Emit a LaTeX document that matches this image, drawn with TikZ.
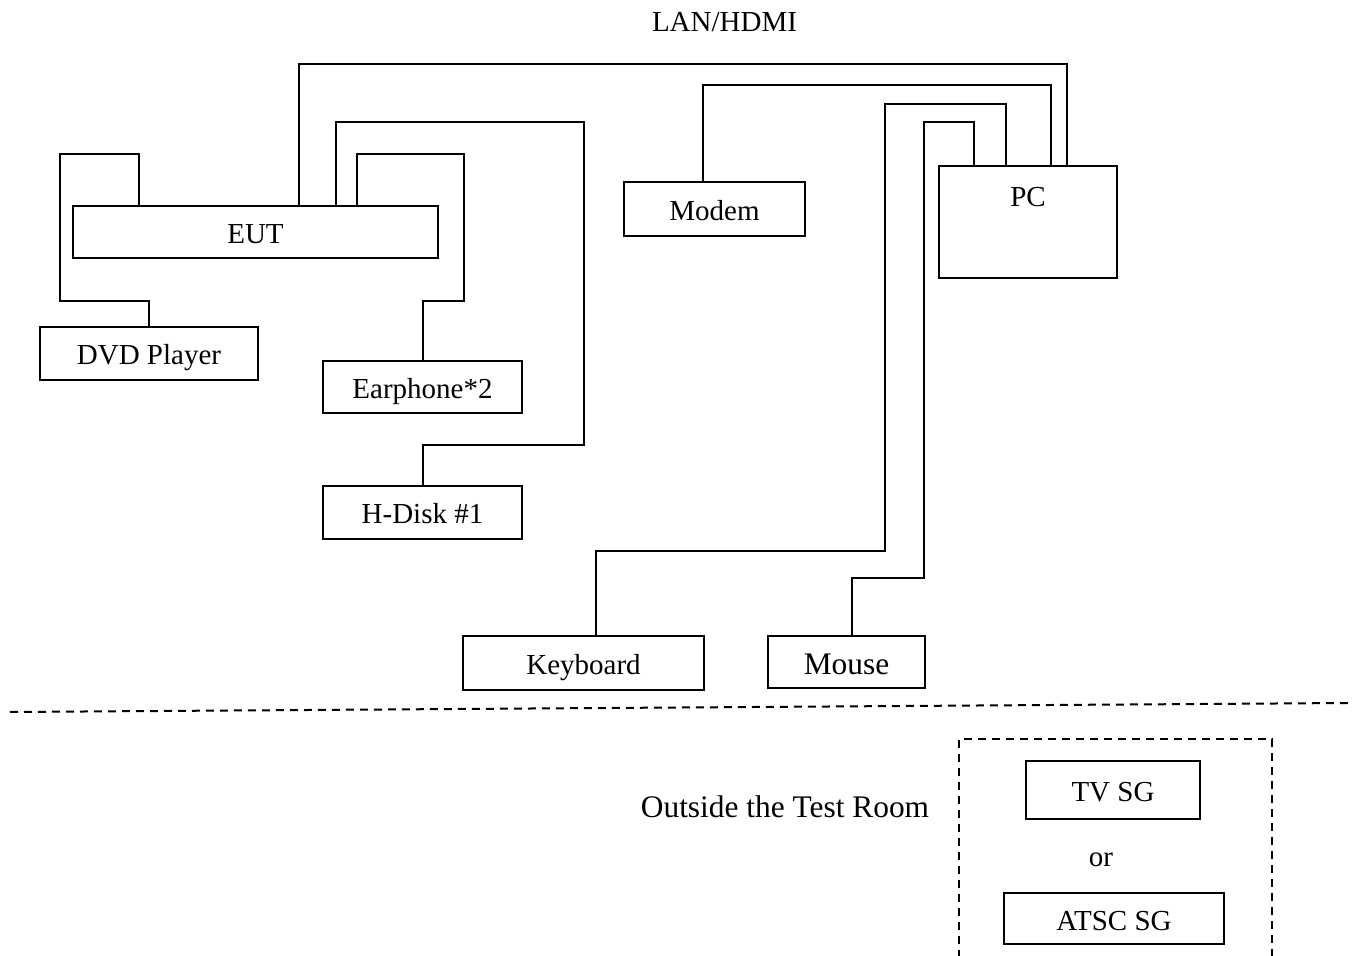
\documentclass[tikz,border=0pt]{standalone}
\usepackage{fontspec}
\setmainfont{Liberation Serif}
\usetikzlibrary{calc}
\tikzset{
  box/.style={draw, line width=1pt, rectangle, inner sep=0pt, text height=11.5pt, text depth=0pt, font=\fontsize{14.5}{17}\selectfont},
  cable/.style={draw, line width=1pt},
  dashline/.style={draw, line width=1pt, dash pattern=on 4pt off 3pt},
  lbl/.style={inner sep=0pt, font=\fontsize{14.5}{17}\selectfont},
}
\begin{document}
\begin{tikzpicture}[x=0.5pt, y=-0.5pt]
\useasboundingbox (0,0) rectangle (1355,956);
% boxes
\node[box, minimum width=182.5pt, minimum height=26pt] (EUT) at (255.5,232) {EUT};
\node[box, minimum width=109pt, minimum height=26.5pt] (DVD) at (149,353.5) {DVD Player};
\node[box, minimum width=99.5pt, minimum height=26pt] (Ear) at (422.5,387) {Earphone*2};
\node[box, minimum width=99.5pt, minimum height=26.5pt] (HDisk) at (422.5,512.5) {H-Disk \#1};
\node[box, minimum width=90.5pt, minimum height=27pt] (Modem) at (714.5,209) {Modem};
\node[box, minimum width=89pt, minimum height=56pt, label={[lbl, anchor=center, yshift=-16pt]north:PC}] (PC) at (1028,222) {};
\node[box, minimum width=120.5pt, minimum height=27pt] (Kbd) at (583.5,663) {Keyboard};
\node[box, minimum width=78.5pt, minimum height=26pt, text height=12.4pt, font=\fontsize{15.7}{18}\selectfont] (Mouse) at (846.5,662) {Mouse};
\node[box, minimum width=87pt, minimum height=29pt] (TVSG) at (1113,790) {TV SG};
\node[box, minimum width=110pt, minimum height=25.5pt] (ATSC) at (1114,918.5) {ATSC SG};
% texts
\node[lbl] (lan) at (724.5,22) {LAN/HDMI};
\node[lbl, font=\fontsize{15.7}{18}\selectfont] (outside) at (785,807) {Outside the Test Room};
\node[lbl] (or) at (1101,860) {or};
% cables
\draw[cable] ($(EUT.north west)+(67,0)$) -- ++(0,-51) -| (60,301) -| (DVD.north);
\draw[cable] ($(EUT.north west)+(285,0)$) -- ++(0,-51) -| (464,301) -| (Ear.north);
\draw[cable] ($(EUT.north west)+(264,0)$) -- ++(0,-83) -| (584,445) -| (HDisk.north);
\draw[cable] ($(EUT.north west)+(227,0)$) -- ++(0,-141) -| ($(PC.north west)+(129,0)$);
\draw[cable] ($(Modem.north west)+(80,0)$) -- ++(0,-96) -| ($(PC.north west)+(113,0)$);
\draw[cable] ($(PC.north west)+(68,0)$) -- ++(0,-61) -| (885,551) -| ($(Kbd.north west)+(134,0)$);
\draw[cable] ($(PC.north west)+(36,0)$) -- ++(0,-43) -| (924,578) -| ($(Mouse.north west)+(85,0)$);
% room boundary
\coordinate (bl) at (10,712);
\coordinate (br) at (1350,703);
\draw[dashline] (bl) -- (br);
\coordinate (dbl) at (959,958);
\coordinate (dbr) at (1272,958);
\draw[dashline] (dbl) |- (1272,739) -- (dbr);
\end{tikzpicture}
\end{document}
